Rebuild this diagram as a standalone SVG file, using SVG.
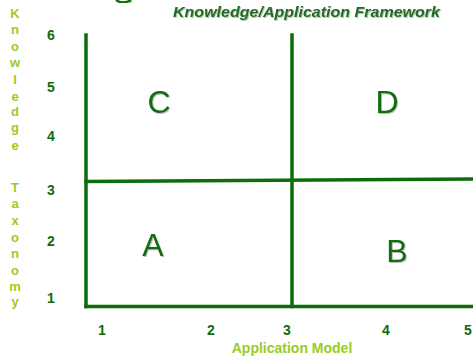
<svg xmlns="http://www.w3.org/2000/svg" width="473" height="357" viewBox="0 0 473 357">
<defs>
<filter id="sh" x="-20%" y="-20%" width="140%" height="140%">
<feDropShadow dx="1" dy="1" stdDeviation="0.6" flood-color="#888" flood-opacity="0.55"/>
</filter>
</defs>
<style>
.ln{stroke:#0b6e0b;stroke-width:3.5;fill:none;stroke-linecap:square}
.num{font-family:"Liberation Sans",Arial,sans-serif;font-weight:bold;font-size:14px;fill:#0f6b0f;text-anchor:middle}
.lab{font-family:"Liberation Sans",Arial,sans-serif;font-weight:bold;font-size:14px;fill:#99cc22;text-anchor:middle}
.vl{font-family:"Liberation Sans",Arial,sans-serif;font-weight:bold;font-size:13px;fill:#99cc22;text-anchor:middle}
.big{font-family:"Liberation Sans",Arial,sans-serif;font-size:32px;fill:#0b6e0b;text-anchor:middle;filter:url(#sh)}
.title{font-family:"Liberation Sans",Arial,sans-serif;font-weight:bold;font-style:italic;font-size:15px;fill:#1a6e1a}
</style>
<rect width="473" height="357" fill="#fff"/>
<path d="M116,0 Q123,5 131,0" stroke="#0b6e0b" stroke-width="2.5" fill="none" filter="url(#sh)"/>
<text class="title" x="173" y="17" textLength="267" lengthAdjust="spacingAndGlyphs" filter="url(#sh)">Knowledge/Application Framework</text>
<g id="connectors">
<line class="ln" x1="86" y1="35" x2="86" y2="306.5"/>
<line class="ln" x1="86" y1="306.5" x2="475" y2="306.5"/>
<line class="ln" x1="292" y1="35" x2="292" y2="306.5"/>
<line class="ln" x1="86" y1="181.5" x2="475" y2="179"/>
</g>
<g id="quadC"><text class="big" x="159" y="113">C</text></g>
<g id="quadD"><text class="big" x="387" y="113">D</text></g>
<g id="quadA"><text class="big" x="153" y="256">A</text></g>
<g id="quadB"><text class="big" x="397" y="262">B</text></g>
<g id="yaxis">
<text class="num" x="51" y="40">6</text>
<text class="num" x="51" y="92">5</text>
<text class="num" x="51" y="141">4</text>
<text class="num" x="51" y="195">3</text>
<text class="num" x="51" y="246">2</text>
<text class="num" x="51" y="303">1</text>
</g>
<g id="xaxis">
<text class="num" x="102" y="335">1</text>
<text class="num" x="211" y="335">2</text>
<text class="num" x="287" y="335">3</text>
<text class="num" x="386" y="335">4</text>
<text class="num" x="468" y="335">5</text>
</g>
<g id="ylabel">
<text class="vl" x="15" y="18">K</text>
<text class="vl" x="15" y="34">n</text>
<text class="vl" x="15" y="51">o</text>
<text class="vl" x="15" y="67">w</text>
<text class="vl" x="15" y="84">l</text>
<text class="vl" x="15" y="101">e</text>
<text class="vl" x="15" y="116">d</text>
<text class="vl" x="15" y="132">g</text>
<text class="vl" x="15" y="150">e</text>
<text class="vl" x="15" y="192">T</text>
<text class="vl" x="15" y="208">a</text>
<text class="vl" x="15" y="225">x</text>
<text class="vl" x="15" y="242">o</text>
<text class="vl" x="15" y="258">n</text>
<text class="vl" x="15" y="275">o</text>
<text class="vl" x="15" y="291">m</text>
<text class="vl" x="15" y="306">y</text>
</g>
<g id="xlabel"><text class="lab" x="292" y="353">Application Model</text></g>
</svg>
